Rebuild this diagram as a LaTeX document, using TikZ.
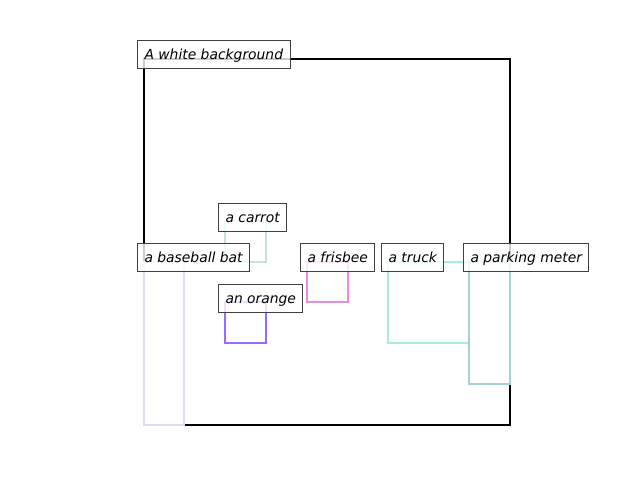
\documentclass[tikz,border=0pt]{standalone}
\usepackage{fontspec}
\setmainfont{DejaVu Sans}
\usepackage{xcolor}
\usepackage{tikz}
\usetikzlibrary{positioning}

\definecolor{carrotcol}{HTML}{C6E4D6}
\definecolor{batcol}{HTML}{DCDCF6}
\definecolor{orangecol}{HTML}{9B6BFF}
\definecolor{frisbeecol}{HTML}{E88CE0}
\definecolor{truckcol}{HTML}{A8EFD6}
\definecolor{metercol}{HTML}{A6D0D6}

\begin{document}
\begin{tikzpicture}[
    x=0.75pt, y=-0.75pt,
    region/.style={line width=1.6pt},
    tag/.style={draw=black!75, line width=0.75pt, fill=white, fill opacity=0.8, text opacity=1,
        anchor=west, font=\itshape\fontsize{10.4}{12}\selectfont,
        inner xsep=5.25pt, inner ysep=5.5pt, text height=8.9pt, text depth=1.1pt}
]
\useasboundingbox (0,0) rectangle (640,480);

% Background
\draw[region, black] (144,59) rectangle (510,425);

% Objects
\draw[region, carrotcol] (225,221) rectangle (266,262);
\draw[region, batcol] (144,262) rectangle (184,425);
\draw[region, orangecol] (225,302) rectangle (266,343);
\draw[region, frisbeecol] (307,262) rectangle (348,302);
\draw[region, truckcol] (388,262) rectangle (469,343);
\draw[region, metercol] (469,262) rectangle (510,384);

% Labels
\node[tag] (bg) at (137,54) {A white background};
\node[tag] (carrot) at (218,217) {a carrot};
\node[tag] (bat) at (137,257) {a baseball bat};
\node[tag] (orange) at (218,298) {an orange};
\node[tag] (frisbee) at (300,257) {a frisbee};
\node[tag] (truck) at (381,257) {a truck};
\node[tag] (meter) at (463,257) {a parking meter};

\end{tikzpicture}
\end{document}
